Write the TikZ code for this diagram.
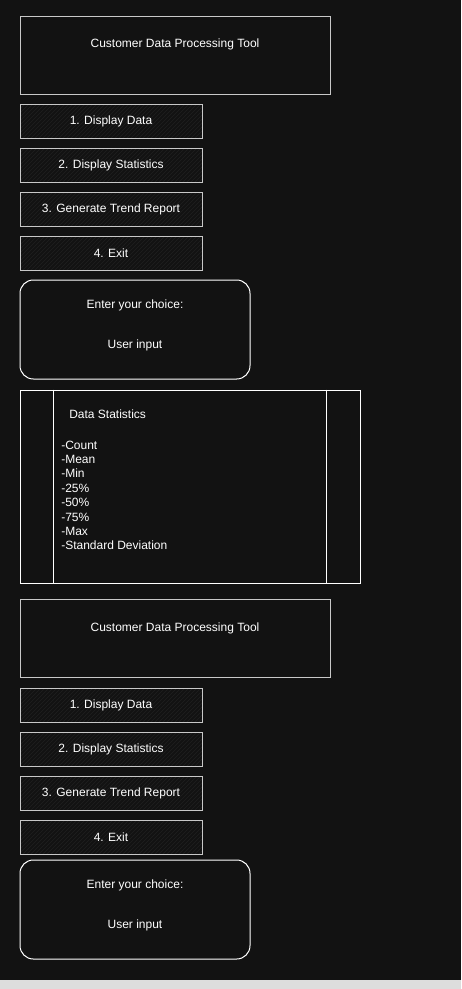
\documentclass[tikz,border=0pt]{standalone}
\usepackage{fontspec}
\setmainfont{Liberation Sans}
\usetikzlibrary{positioning,patterns}
\definecolor{bgdark}{HTML}{121212}
\definecolor{bgstrip}{HTML}{DDDDDD}
\definecolor{edgegray}{HTML}{C8C8C8}
\definecolor{hatch}{HTML}{202020}
\tikzset{
	%Define style for boxes
	titlebox/.style={
		rectangle,
		draw=edgegray, line width=0.75pt,
		minimum width=232.5pt,
		minimum height=58.5pt},
	menubox/.style={
		rectangle,
		draw=edgegray, line width=0.75pt,
		preaction={fill=bgdark},
		pattern=north east lines, pattern color=hatch,
		minimum width=136.5pt,
		minimum height=25.5pt,
		text=white, font=\fontsize{9}{11}\selectfont},
	inputbox/.style={
		rectangle,
		rounded corners=10pt,
		draw=white, line width=0.75pt,
		minimum width=172.5pt,
		minimum height=74.25pt},
	statbox/.style={
		rectangle,
		draw=white, line width=0.75pt,
		minimum width=255pt,
		minimum height=144.75pt},
	txt/.style={text=white, font=\fontsize{9}{11}\selectfont, inner sep=0pt}
}

\begin{document}
\begin{tikzpicture}[x=0.75pt,y=-0.75pt]
	\useasboundingbox (0,0) rectangle (461,989);
	\fill[bgdark] (0,0) rectangle (461,980);
	\fill[bgstrip] (0,980) rectangle (461,989);

	% first menu
	\node[titlebox] (title1) at (175,55) {};
	\node[txt] (title1txt) at (175,44) {Customer Data Processing Tool};
	\node[menubox] (opt1a) at (111,121) {1. Display Data};
	\node[menubox] (opt2a) at (111,165) {2. Display Statistics};
	\node[menubox] (opt3a) at (111,209) {3. Generate Trend Report};
	\node[menubox] (opt4a) at (111,253) {4. Exit};
	\node[inputbox] (choice1) at (135,329.5) {};
	\node[txt] (ask1) at (135,305) {Enter your choice:};
	\node[txt] (input1) at (135,345) {User input};

	% statistics panel
	\node[statbox] (stats) at (190,486.5) {};
	\draw[white, line width=0.75pt] ([xshift=25.5pt]stats.north west) -- ([xshift=25.5pt]stats.south west);
	\draw[white, line width=0.75pt] ([xshift=-25.5pt]stats.north east) -- ([xshift=-25.5pt]stats.south east);
	\node[txt, anchor=west] (statshead) at (69,414) {Data Statistics};
	\node[txt, anchor=north west, align=left, font=\fontsize{9}{10.8}\selectfont] (statslist) at (61,440.5)
		{-Count\\-Mean\\-Min\\-25\%\\-50\%\\-75\%\\-Max\\-Standard Deviation};

	% second menu
	\node[titlebox] (title2) at (175,638.5) {};
	\node[txt] (title2txt) at (175,628) {Customer Data Processing Tool};
	\node[menubox] (opt1b) at (111,705) {1. Display Data};
	\node[menubox] (opt2b) at (111,749) {2. Display Statistics};
	\node[menubox] (opt3b) at (111,793) {3. Generate Trend Report};
	\node[menubox] (opt4b) at (111,837) {4. Exit};
	\node[inputbox] (choice2) at (135,909.5) {};
	\node[txt] (ask2) at (135,885) {Enter your choice:};
	\node[txt] (input2) at (135,925) {User input};
\end{tikzpicture}
\end{document}
